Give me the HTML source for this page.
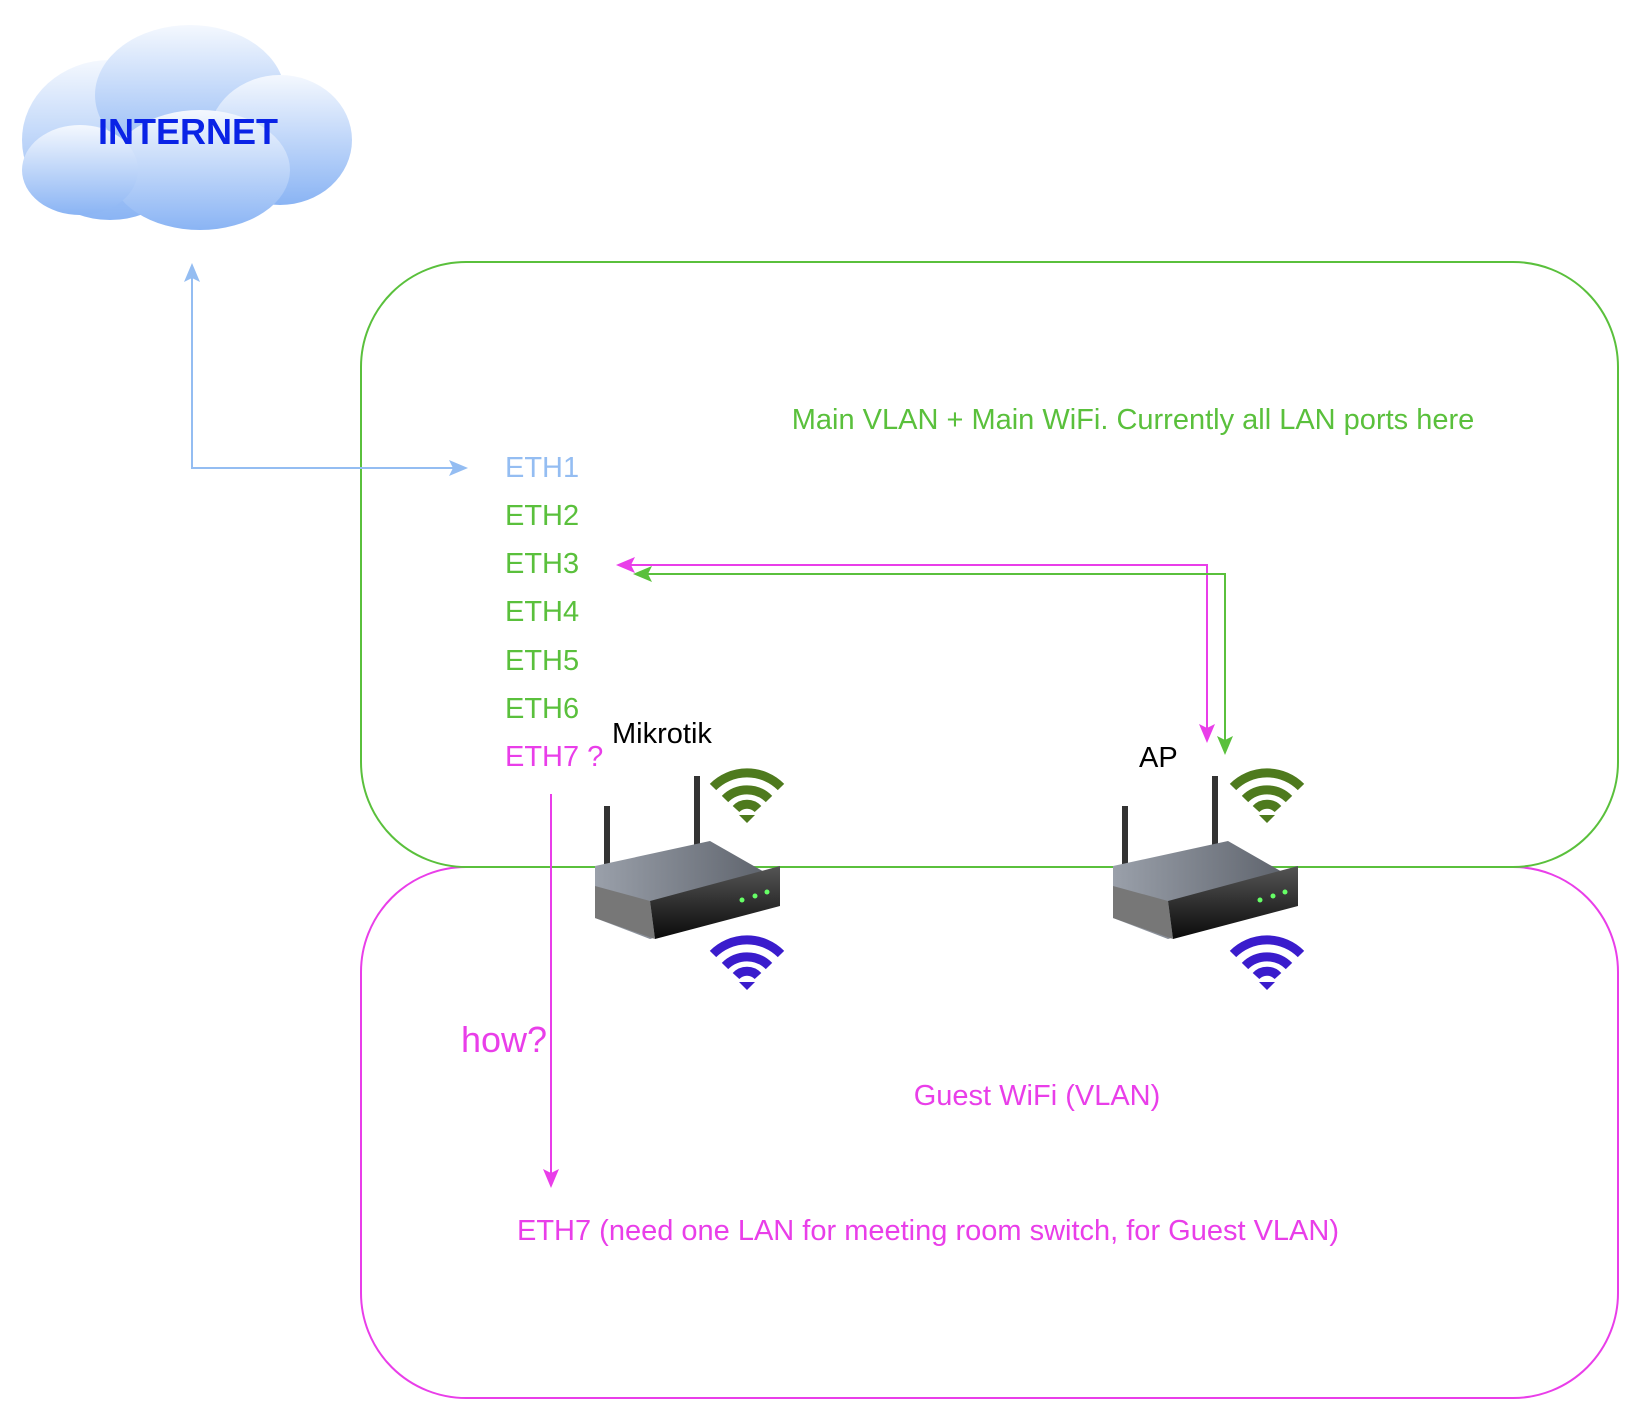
<!DOCTYPE html>
<html><head><meta charset="utf-8"><style>
html,body{margin:0;padding:0;background:#fff;}
svg{display:block;}
text{font-family:"Liberation Sans",Arial,sans-serif;}
</style></head><body>
<svg width="1642" height="1416" viewBox="0 0 1642 1416" xmlns="http://www.w3.org/2000/svg">
<defs>
<linearGradient id="cg" x1="0" y1="0" x2="0" y2="1">
<stop offset="0" stop-color="#f4f8fe"/><stop offset="1" stop-color="#8ab4f4"/>
</linearGradient>
<linearGradient id="rb" x1="0" y1="0" x2="0" y2="1">
<stop offset="0" stop-color="#555"/><stop offset="1" stop-color="#0a0a0a"/>
</linearGradient>
<linearGradient id="rg" x1="0" y1="0" x2="1" y2="0">
<stop offset="0" stop-color="#9aa0aa"/><stop offset="1" stop-color="#5a5f68"/>
</linearGradient>
<g id="router">
<rect x="14" y="0" width="6" height="75" fill="#333"/>
<rect x="104" y="-30" width="6" height="100" fill="#333"/>
<path d="M5 60 L120 35 L190 75 L190 95 L60 133 L5 112 Z" fill="url(#rg)"/>
<path d="M60 95 L190 60 L190 100 L65 133 Z" fill="url(#rb)"/>
<path d="M5 80 L60 95 L65 133 L5 112 Z" fill="#777"/>
<circle cx="152" cy="94" r="2.5" fill="#6f6"/><circle cx="165" cy="90" r="2.5" fill="#6f6"/><circle cx="177" cy="86" r="2.5" fill="#6f6"/>
</g>
<g id="wifiG" fill="none" stroke="#4e7a1d" stroke-width="9">
<path d="M-34 -4 A48 48 0 0 1 34 -4"/><path d="M-22 8 A31 31 0 0 1 22 8"/><path d="M-11 18 A15 15 0 0 1 11 18"/>
<path d="M0 32 L-8 24 L8 24 Z" fill="#4e7a1d" stroke="none"/>
</g>
<g id="wifiP" fill="none" stroke="#3a1ccc" stroke-width="9">
<path d="M-34 -4 A48 48 0 0 1 34 -4"/><path d="M-22 8 A31 31 0 0 1 22 8"/><path d="M-11 18 A15 15 0 0 1 11 18"/>
<path d="M0 32 L-8 24 L8 24 Z" fill="#3a1ccc" stroke="none"/>
</g>
</defs>

<!-- cloud -->
<g fill="url(#cg)">
<ellipse cx="110" cy="140" rx="88" ry="80"/>
<ellipse cx="190" cy="95" rx="95" ry="70"/>
<ellipse cx="280" cy="140" rx="72" ry="65"/>
<ellipse cx="200" cy="170" rx="90" ry="60"/>
<ellipse cx="80" cy="170" rx="58" ry="45"/>
</g>
<text x="188" y="144" font-size="36" font-weight="bold" fill="#0a23e6" text-anchor="middle">INTERNET</text>

<!-- boxes -->
<rect x="361" y="867" width="1257" height="531" rx="105" fill="none" stroke="#e93ee9" stroke-width="2"/>
<rect x="361" y="262" width="1257" height="605" rx="105" fill="none" stroke="#5ac03c" stroke-width="2"/>

<!-- blue connector -->
<polyline points="192,278 192,468 460,468" fill="none" stroke="#94bdf2" stroke-width="2"/>
<path d="M192 263 L184 282 L192 278 L200 282 Z" fill="#94bdf2"/>
<path d="M468 468 L449 460 L453 468 L449 476 Z" fill="#94bdf2"/>

<!-- ETH3 connectors -->
<polyline points="628,565 1207,565 1207,730" fill="none" stroke="#e93ee9" stroke-width="2"/>
<path d="M616 565 L635 557 L631 565 L635 573 Z" fill="#e93ee9"/>
<path d="M1207 743 L1199 724 L1207 728 L1215 724 Z" fill="#e93ee9"/>
<polyline points="645,574 1225,574 1225,742" fill="none" stroke="#5ac03c" stroke-width="2"/>
<path d="M633 574 L652 566 L648 574 L652 582 Z" fill="#5ac03c"/>
<path d="M1225 755 L1217 736 L1225 740 L1233 736 Z" fill="#5ac03c"/>

<!-- ETH7 down -->
<line x1="551" y1="794" x2="551" y2="1175" stroke="#e93ee9" stroke-width="2"/>
<path d="M551 1188 L543 1169 L551 1173 L559 1169 Z" fill="#e93ee9"/>

<g font-size="29">
<text x="505" y="477" fill="#94bdf2">ETH1</text>
<text x="505" y="525" fill="#5ac03c">ETH2</text>
<text x="505" y="573" fill="#5ac03c">ETH3</text>
<text x="505" y="621" fill="#5ac03c">ETH4</text>
<text x="505" y="670" fill="#5ac03c">ETH5</text>
<text x="505" y="718" fill="#5ac03c">ETH6</text>
<text x="505" y="766" fill="#e93ee9">ETH7 ?</text>
<text x="1133" y="429" fill="#5ac03c" text-anchor="middle">Main VLAN + Main WiFi. Currently all LAN ports here</text>
<text x="1037" y="1105" fill="#e93ee9" text-anchor="middle">Guest WiFi (VLAN)</text>
<text x="928" y="1240" fill="#e93ee9" text-anchor="middle">ETH7 (need one LAN for meeting room switch, for Guest VLAN)</text>
<text x="612" y="743" fill="#000">Mikrotik</text>
<text x="1139" y="767" fill="#000">AP</text>
</g>
<text x="461" y="1052" font-size="36" fill="#e93ee9">how?</text>

<!-- routers -->
<use href="#router" transform="translate(590,806)"/>
<use href="#router" transform="translate(1108,806)"/>
<use href="#wifiG" transform="translate(747,791)"/>
<use href="#wifiP" transform="translate(747,958)"/>
<use href="#wifiG" transform="translate(1267,791)"/>
<use href="#wifiP" transform="translate(1267,958)"/>
</svg>
</body></html>
